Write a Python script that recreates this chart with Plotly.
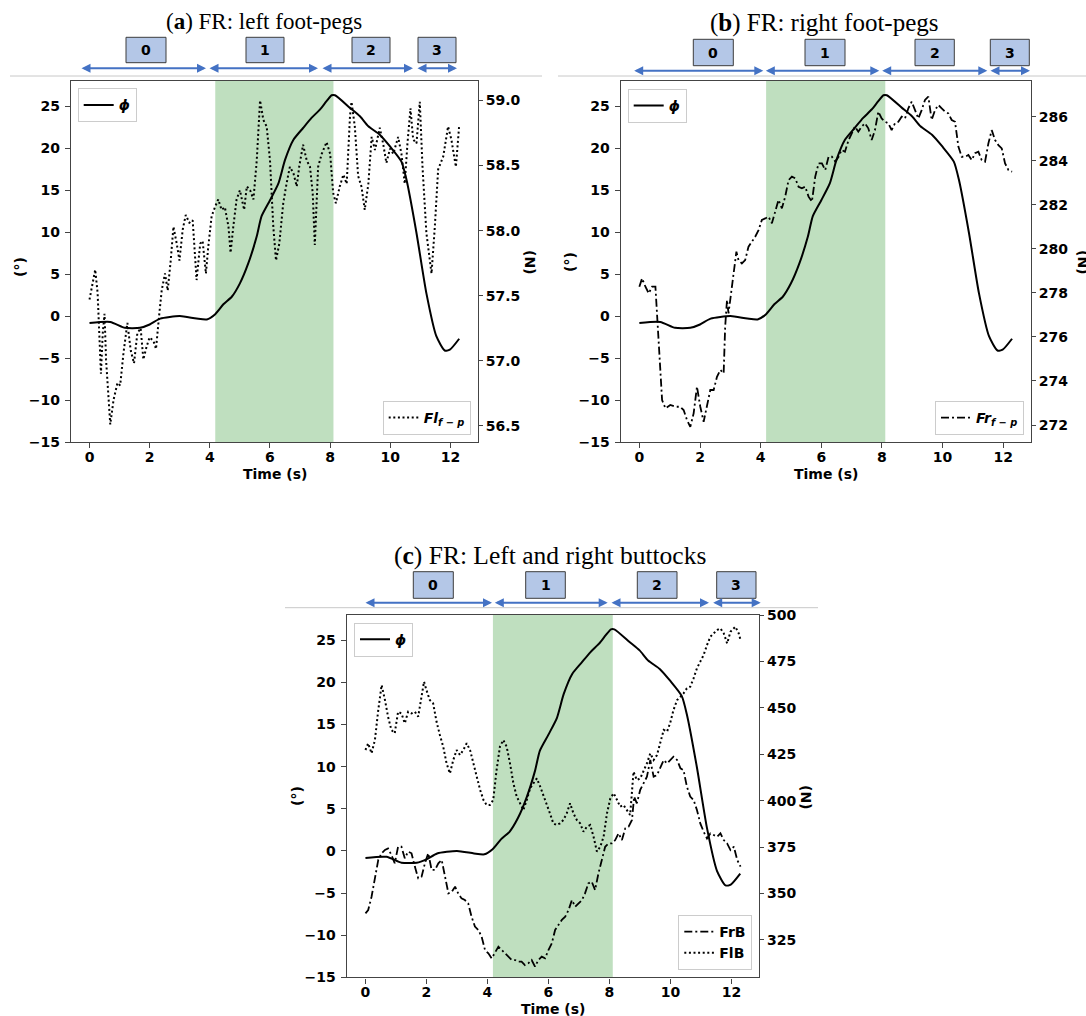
import plotly.graph_objects as go

W, H = 1086, 1016

# ---------------- data ----------------
phi_t = [0, 0.69, 1.18, 1.68, 2.0, 2.35, 3.0, 3.56, 3.9, 4.17,
         4.45, 4.73, 5.0, 5.28, 5.56, 5.72, 6.0, 6.28, 6.5, 6.78,
         7.1, 7.38, 7.66, 7.88, 8.05, 8.16, 8.66, 8.99, 9.27, 9.65,
         9.99, 10.37, 10.54, 10.87, 11.2, 11.53, 11.81, 11.98, 12.29]
phi_deg = [-0.83, -0.7, -1.4, -1.4, -1.0, -0.3, 0.0, -0.3, -0.4, 0.2,
           1.4, 2.3, 3.9, 6.3, 9.5, 11.9, 13.8, 15.8, 18.6, 21.0,
           22.4, 23.6, 24.6, 25.6, 26.3, 26.3, 24.8, 23.8, 22.6, 21.6,
           20.2, 18.4, 16.2, 9.9, 2.7, -2.4, -4.1, -4.0, -2.7]

fl_t = [0, 0.08, 0.19, 0.27, 0.38, 0.44, 0.5, 0.55, 0.69, 0.8,
        0.93, 1.02, 1.13, 1.26, 1.37, 1.48, 1.59, 1.7, 1.79, 1.9,
        2.0, 2.13, 2.21, 2.32, 2.4, 2.51, 2.6, 2.7, 2.79, 2.9,
        2.99, 3.1, 3.2, 3.32, 3.43, 3.56, 3.68, 3.76, 3.87, 3.95,
        4.06, 4.17, 4.28, 4.39, 4.5, 4.62, 4.69, 4.78, 4.89, 5.0,
        5.14, 5.23, 5.34, 5.45, 5.56, 5.67, 5.78, 5.89, 6.0, 6.11,
        6.2, 6.31, 6.44, 6.55, 6.66, 6.78, 6.89, 6.97, 7.1, 7.22,
        7.33, 7.42, 7.49, 7.6, 7.72, 7.88, 8.0, 8.1, 8.19, 8.32,
        8.44, 8.55, 8.66, 8.71, 8.82, 8.93, 9.04, 9.15, 9.27, 9.38,
        9.49, 9.65, 9.76, 9.87, 9.99, 10.1, 10.26, 10.37, 10.48, 10.57,
        10.67, 10.76, 10.87, 10.98, 11.07, 11.2, 11.37, 11.48, 11.59, 11.76,
        11.92, 12.03, 12.18, 12.29]
fl_fp = [57.47, 57.57, 57.70, 57.52, 56.90, 57.21, 57.36, 57.01, 56.51, 56.70,
         56.83, 56.81, 57.06, 57.29, 57.08, 56.98, 57.21, 57.25, 57.01, 57.11,
         57.18, 57.15, 57.09, 57.36, 57.54, 57.67, 57.54, 57.77, 58.03, 57.90,
         57.77, 58.01, 58.12, 58.06, 58.08, 57.62, 57.90, 57.92, 57.67, 57.88,
         58.11, 58.18, 58.24, 58.16, 58.18, 58.03, 57.83, 58.03, 58.24, 58.31,
         58.16, 58.34, 58.31, 58.24, 58.54, 59.00, 58.85, 58.80, 58.54, 58.03,
         57.77, 57.90, 58.21, 58.36, 58.49, 58.44, 58.34, 58.49, 58.66, 58.54,
         58.49, 58.29, 57.89, 58.49, 58.59, 58.68, 58.59, 58.29, 58.21, 58.34,
         58.43, 58.36, 58.88, 58.99, 58.80, 58.42, 58.34, 58.16, 58.36, 58.72,
         58.62, 58.79, 58.67, 58.52, 58.63, 58.59, 58.72, 58.59, 58.36, 58.67,
         58.94, 58.70, 58.67, 58.99, 58.49, 57.98, 57.67, 58.03, 58.47, 58.57,
         58.80, 58.70, 58.49, 58.81]

fr_t = [0, 0.09, 0.2, 0.31, 0.42, 0.53, 0.64, 0.75, 0.86, 1.02,
        1.19, 1.35, 1.46, 1.57, 1.68, 1.79, 1.9, 2.01, 2.12, 2.23,
        2.34, 2.45, 2.56, 2.67, 2.78, 2.83, 2.89, 2.94, 3.02, 3.11,
        3.2, 3.27, 3.38, 3.49, 3.6, 3.71, 3.82, 3.93, 4.04, 4.15,
        4.26, 4.37, 4.48, 4.59, 4.7, 4.81, 4.92, 5.03, 5.14, 5.25,
        5.36, 5.47, 5.58, 5.69, 5.8, 5.91, 6.02, 6.13, 6.24, 6.35,
        6.46, 6.57, 6.67, 6.78, 6.9, 7.0, 7.11, 7.22, 7.33, 7.44,
        7.55, 7.66, 7.77, 7.88, 7.99, 8.1, 8.21, 8.32, 8.43, 8.54,
        8.65, 8.76, 8.87, 8.98, 9.09, 9.2, 9.31, 9.42, 9.53, 9.64,
        9.75, 9.86, 9.97, 10.08, 10.19, 10.3, 10.41, 10.52, 10.63, 10.74,
        10.85, 10.96, 11.07, 11.18, 11.29, 11.4, 11.51, 11.62, 11.73, 11.84,
        11.95, 12.06, 12.17, 12.29]
fr_fp = [278.28, 278.66, 278.28, 277.98, 278.28, 278.28, 275.71, 273.13, 272.76, 272.91,
         272.83, 272.83, 272.68, 272.23, 271.92, 272.53, 273.74, 272.83, 272.15, 272.83,
         273.59, 273.59, 274.19, 274.50, 274.35, 276.46, 277.68, 277.07, 277.98, 278.89,
         279.87, 279.49, 279.34, 279.49, 280.10, 280.32, 280.55, 280.85, 281.31, 281.38,
         281.46, 281.16, 281.76, 282.22, 281.84, 282.37, 283.12, 283.28, 283.20, 282.82,
         282.75, 282.82, 282.37, 282.14, 283.28, 283.88, 283.88, 283.58, 284.18, 284.18,
         283.96, 284.18, 284.49, 284.41, 284.94, 285.24, 285.55, 285.32, 285.55, 285.70,
         285.47, 284.94, 285.39, 286.23, 285.92, 285.77, 285.70, 285.39, 285.70, 285.77,
         286.00, 285.92, 286.38, 286.68, 286.30, 285.92, 286.30, 286.76, 286.91, 285.85,
         286.30, 286.53, 286.38, 286.23, 286.15, 285.85, 285.77, 284.64, 284.18, 284.18,
         284.26, 284.03, 284.34, 284.41, 284.03, 283.96, 284.79, 285.39, 284.94, 284.71,
         284.56, 283.88, 283.58, 283.50]

flb_t = [0, 0.09, 0.2, 0.31, 0.42, 0.53, 0.64, 0.74, 0.85, 0.96,
         1.07, 1.18, 1.29, 1.4, 1.51, 1.62, 1.73, 1.84, 1.92, 2.0,
         2.11, 2.22, 2.33, 2.44, 2.55, 2.66, 2.77, 2.88, 2.99, 3.1,
         3.21, 3.32, 3.43, 3.54, 3.65, 3.76, 3.87, 3.97, 4.08, 4.19,
         4.3, 4.41, 4.52, 4.63, 4.74, 4.85, 4.96, 5.07, 5.18, 5.29,
         5.4, 5.51, 5.62, 5.73, 5.84, 5.95, 6.05, 6.16, 6.27, 6.38,
         6.49, 6.6, 6.71, 6.82, 6.93, 7.04, 7.15, 7.26, 7.37, 7.48,
         7.59, 7.7, 7.81, 7.92, 8.03, 8.14, 8.25, 8.35, 8.46, 8.57,
         8.68, 8.79, 8.9, 9.01, 9.12, 9.23, 9.34, 9.45, 9.56, 9.67,
         9.78, 9.89, 9.99, 10.1, 10.22, 10.33, 10.43, 10.54, 10.65, 10.76,
         10.87, 10.98, 11.09, 11.2, 11.31, 11.42, 11.53, 11.64, 11.75, 11.86,
         11.97, 12.13, 12.24, 12.3]
flb = [427.3, 430.9, 425.5, 432.7, 448.8, 462.3, 454.2, 445.3, 438.1, 436.3,
       447.9, 447.0, 441.7, 447.9, 447.0, 447.9, 445.3, 456.0, 464.1, 459.6,
       454.2, 452.4, 442.6, 435.4, 429.1, 420.1, 414.7, 421.9, 427.3, 424.6,
       427.3, 430.9, 427.3, 420.1, 412.9, 405.8, 400.4, 397.7, 397.7, 400.4,
       416.5, 429.1, 432.7, 429.1, 420.1, 409.4, 402.2, 398.6, 395.0, 400.4,
       406.7, 409.4, 412.0, 407.6, 402.2, 397.7, 393.2, 387.8, 386.9, 387.8,
       389.6, 393.2, 398.6, 393.2, 389.6, 387.8, 383.3, 386.0, 386.9, 380.6,
       372.6, 375.2, 380.6, 393.2, 401.3, 404.0, 400.4, 396.8, 397.7, 395.0,
       392.3, 415.6, 411.1, 412.0, 415.6, 420.1, 425.5, 421.9, 424.6, 430.9,
       438.1, 437.2, 441.7, 448.8, 454.2, 456.0, 457.8, 460.5, 461.4, 465.9,
       471.3, 474.9, 478.5, 483.8, 488.3, 490.1, 491.9, 492.8, 490.1, 484.7,
       491.0, 493.7, 490.1, 486.5]

frb_t = [0, 0.09, 0.2, 0.31, 0.42, 0.53, 0.64, 0.74, 0.85, 0.96,
         1.07, 1.18, 1.29, 1.4, 1.51, 1.62, 1.73, 1.84, 1.95, 2.06,
         2.17, 2.28, 2.39, 2.5, 2.61, 2.72, 2.83, 2.94, 3.04, 3.15,
         3.26, 3.37, 3.48, 3.59, 3.7, 3.81, 3.92, 4.03, 4.14, 4.25,
         4.36, 4.47, 4.58, 4.69, 4.8, 4.91, 5.01, 5.12, 5.23, 5.34,
         5.45, 5.56, 5.67, 5.78, 5.89, 6.0, 6.11, 6.22, 6.33, 6.44,
         6.55, 6.66, 6.77, 6.88, 6.99, 7.1, 7.2, 7.31, 7.42, 7.53,
         7.64, 7.75, 7.86, 7.97, 8.08, 8.19, 8.3, 8.41, 8.52, 8.63,
         8.74, 8.81, 8.9, 9.01, 9.12, 9.23, 9.34, 9.45, 9.56, 9.67,
         9.78, 9.89, 9.99, 10.1, 10.22, 10.33, 10.43, 10.54, 10.65, 10.76,
         10.87, 10.98, 11.09, 11.2, 11.31, 11.42, 11.53, 11.64, 11.75, 11.86,
         11.97, 12.08, 12.19, 12.3]
frb = [339.3, 341.1, 348.3, 359.1, 368.1, 371.7, 373.5, 374.3, 370.8, 366.3,
       375.2, 375.2, 369.0, 372.6, 371.7, 364.5, 358.2, 359.1, 366.3, 371.7,
       362.7, 362.7, 366.3, 368.1, 359.1, 350.1, 351.0, 353.7, 350.1, 347.4,
       346.5, 344.7, 337.5, 332.2, 330.4, 326.8, 319.6, 317.8, 315.1, 318.7,
       321.4, 319.6, 317.8, 316.0, 314.2, 314.2, 313.3, 313.3, 311.5, 312.4,
       314.2, 310.6, 314.2, 316.0, 315.1, 319.6, 323.2, 330.4, 333.1, 335.8,
       337.5, 341.1, 346.5, 342.9, 344.7, 346.5, 350.1, 355.5, 356.4, 351.9,
       360.9, 368.1, 375.2, 377.0, 377.0, 378.8, 382.4, 378.8, 385.1, 386.0,
       389.6, 402.2, 398.6, 405.8, 409.4, 412.9, 421.9, 412.9, 413.8, 418.3,
       421.9, 420.1, 421.9, 423.7, 421.9, 417.4, 416.5, 407.6, 402.2, 400.4,
       395.0, 387.8, 383.3, 379.7, 382.4, 381.5, 380.6, 382.4, 378.8, 377.0,
       373.4, 375.2, 368.1, 364.5]

phase_span = [4.18, 8.11]
phase_labels = ["0", "1", "2", "3"]
x_ticks = [0, 2, 4, 6, 8, 10, 12]
left_ticks = [-15, -10, -5, 0, 5, 10, 15, 20, 25]
right_ticks_a = [56.5, 57.0, 57.5, 58.0, 58.5, 59.0]
right_ticks_b = [272, 274, 276, 278, 280, 282, 284, 286]
right_ticks_c = [325, 350, 375, 400, 425, 450, 475, 500]

titles = ["(<b>a</b>) FR: left foot-pegs",
          "(<b>b</b>) FR: right foot-pegs",
          "(<b>c</b>) FR: Left and right buttocks"]

# ---------------- helpers ----------------
def px(x):
    return x / W


def py(y):
    return 1 - y / H


SANS = "DejaVu Sans"
TICKFONT = dict(family=SANS, size=14, color="black", weight="bold")
FRAME = "#444444"

# layout of each panel in page pixels
panels = [
    dict(frame=(71, 478, 81, 442), xa="xaxis", ya="yaxis", yb="yaxis2",
         xr="x", yr="y", yr2="y2", rrange=[56.375, 59.15], rticks=right_ticks_a, rfmt=".1f",
         title_xy=(263.7, 22), title_size=23,
         boxes=[(126, 166), (246, 284), (352, 390), (418, 456)], box_y=(37.3, 62.7),
         arrows=[(80, 206), (208, 318), (321, 413), (416, 457)], arrow_y=68.3,
         rule=(10, 542, 76),
         deg_xy=(20, 267), n_xy=(530, 262), time_xy=(274.5, 474)),
    dict(frame=(620.7, 1031, 81, 442), xa="xaxis2", ya="yaxis3", yb="yaxis4",
         xr="x2", yr="y3", yr2="y4", rrange=[271.23, 287.62], rticks=right_ticks_b, rfmt="d",
         title_xy=(824, 23), title_size=25,
         boxes=[(693.3, 733.3), (805, 845), (915, 954.3), (990.3, 1029.3)], box_y=(39.3, 65.7),
         arrows=[(632.7, 763.3), (764.3, 879.3), (880.7, 987.3), (989, 1030)], arrow_y=70.7,
         rule=(558, 1086, 76),
         deg_xy=(570, 262), n_xy=(1083, 262), time_xy=(826, 474)),
    dict(frame=(346.7, 759.3, 615, 977.3), xa="xaxis3", ya="yaxis5", yb="yaxis6",
         xr="x3", yr="y5", yr2="y6", rrange=[304.9, 500], rticks=right_ticks_c, rfmt="d",
         title_xy=(550, 555), title_size=25.5,
         boxes=[(413.3, 453.3), (525.7, 565.3), (637.3, 677), (716.7, 756)], box_y=(571.7, 598.3),
         arrows=[(364, 492), (493.3, 607.7), (610, 709), (711.7, 760.7)], arrow_y=602.7,
         rule=(285, 818, 607.7),
         deg_xy=(297, 796), n_xy=(806, 797), time_xy=(553, 1009)),
]

fig = go.Figure()

# ---------------- traces ----------------
phi_line = dict(color="black", width=2, shape="spline", smoothing=0.6)
phi_name = "<b><i>ϕ</i></b>"
dotted = dict(color="black", width=2, dash="2px,2.6px")
dashdot = dict(color="black", width=1.8, dash="8px,3px,2px,3px")

# panel a
fig.add_trace(go.Scatter(x=phi_t, y=phi_deg, mode="lines", line=phi_line, name=phi_name,
                         xaxis="x", yaxis="y", legend="legend", showlegend=True))
fig.add_trace(go.Scatter(x=fl_t, y=fl_fp, mode="lines", line=dotted,
                         name="<b><i>Fl</i></b><sub><b><i>f − p</i></b></sub>",
                         xaxis="x", yaxis="y2", legend="legend2", showlegend=True))
# panel b
fig.add_trace(go.Scatter(x=phi_t, y=phi_deg, mode="lines", line=phi_line, name=phi_name,
                         xaxis="x2", yaxis="y3", legend="legend3", showlegend=True))
fig.add_trace(go.Scatter(x=fr_t, y=fr_fp, mode="lines", line=dashdot,
                         name="<b><i>Fr</i></b><sub><b><i>f − p</i></b></sub>",
                         xaxis="x2", yaxis="y4", legend="legend4", showlegend=True))
# panel c
fig.add_trace(go.Scatter(x=phi_t, y=phi_deg, mode="lines", line=phi_line, name=phi_name,
                         xaxis="x3", yaxis="y5", legend="legend5", showlegend=True))
fig.add_trace(go.Scatter(x=frb_t, y=frb, mode="lines", line=dashdot,
                         name="<b>FrB</b>", xaxis="x3", yaxis="y6", legend="legend6",
                         showlegend=True))
fig.add_trace(go.Scatter(x=flb_t, y=flb, mode="lines", line=dotted,
                         name="<b>FlB</b>", xaxis="x3", yaxis="y6", legend="legend6",
                         showlegend=True))

# ---------------- axes & decorations ----------------
layout = dict(
    width=W, height=H,
    margin=dict(l=0, r=0, t=0, b=0),
    paper_bgcolor="white", plot_bgcolor="white",
    font=dict(family=SANS, color="black"),
    showlegend=True,
)

for p in panels:
    x0, x1, y0, y1 = p["frame"]
    layout[p["xa"]] = dict(
        domain=[px(x0), px(x1)], range=[-0.615, 12.915], anchor=p["yr"],
        tickvals=x_ticks, ticks="outside", ticklen=5, tickwidth=1.2, tickcolor=FRAME,
        showline=True, linecolor=FRAME, linewidth=1.4, mirror=True,
        showgrid=False, zeroline=False, tickfont=TICKFONT, automargin=False,
        ticklabelstandoff=-3,
    )
    layout[p["ya"]] = dict(
        domain=[py(y1), py(y0)], range=[-15, 28], anchor=p["xr"],
        tickvals=left_ticks, ticks="outside", ticklen=5, tickwidth=1.2, tickcolor=FRAME,
        showline=True, linecolor=FRAME, linewidth=1.4, mirror=True,
        showgrid=False, zeroline=False, tickfont=TICKFONT, automargin=False,
        ticklabelstandoff=2,
    )
    layout[p["yb"]] = dict(
        overlaying=p["yr"], side="right", anchor=p["xr"], range=p["rrange"],
        tickvals=p["rticks"], tickformat=p["rfmt"], ticks="outside", ticklen=4,
        tickwidth=1.2, tickcolor=FRAME, showline=False, showgrid=False, zeroline=False,
        tickfont=TICKFONT, automargin=False, ticklabelstandoff=0,
    )

fig.update_layout(**layout)

legend_style = dict(bgcolor="white", bordercolor="#cccccc", borderwidth=1,
                    font=dict(family=SANS, size=14, color="black"),
                    itemwidth=30, tracegroupgap=2, visible=True)
fig.update_layout(
    legend=dict(x=px(77.7), y=py(88.3), xanchor="left", yanchor="top", **legend_style),
    legend2=dict(x=px(470.7), y=py(435), xanchor="right", yanchor="bottom", **legend_style),
    legend3=dict(x=px(627.7), y=py(89), xanchor="left", yanchor="top", **legend_style),
    legend4=dict(x=px(1024), y=py(435), xanchor="right", yanchor="bottom", **legend_style),
    legend5=dict(x=px(354), y=py(622.7), xanchor="left", yanchor="top", **legend_style),
    legend6=dict(x=px(752.3), y=py(970), xanchor="right", yanchor="bottom", **legend_style),
)

shapes = []
annotations = []
for i, p in enumerate(panels):
    # highlighted phase
    shapes.append(dict(type="rect", xref=p["xr"], yref=p["yr"] + " domain",
                       x0=phase_span[0], x1=phase_span[1], y0=0, y1=1,
                       fillcolor="rgba(0,128,0,0.25)", line=dict(width=0), layer="below"))
    # thin rule above panel
    rx0, rx1, ry = p["rule"]
    shapes.append(dict(type="line", xref="paper", yref="paper",
                       x0=px(rx0), x1=px(rx1), y0=py(ry), y1=py(ry),
                       line=dict(color="#c8c8c8", width=1)))
    # phase boxes
    by0, by1 = p["box_y"]
    for lab, (bx0, bx1) in zip(phase_labels, p["boxes"]):
        shapes.append(dict(type="rect", xref="paper", yref="paper",
                           x0=px(bx0), x1=px(bx1), y0=py(by1), y1=py(by0),
                           fillcolor="#b4c7e7", line=dict(color="#3c3c3c", width=1)))
        annotations.append(dict(xref="paper", yref="paper", x=px((bx0 + bx1) / 2),
                                y=py((by0 + by1) / 2), text="<b>%s</b>" % lab, showarrow=False,
                                font=dict(family=SANS, size=14, color="black"),
                                xanchor="center", yanchor="middle"))
    # phase arrows
    for (ax0, ax1) in p["arrows"]:
        annotations.append(dict(xref="paper", yref="paper", x=px(ax1), y=py(p["arrow_y"]),
                                axref="pixel", ayref="pixel", ax=ax0 - ax1, ay=0, text="",
                                showarrow=True, arrowhead=2, startarrowhead=2,
                                arrowside="end+start", arrowsize=0.9, startarrowsize=0.9,
                                arrowwidth=2, arrowcolor="#4472c4", standoff=0, startstandoff=0))
    # title
    tx, ty = p["title_xy"]
    annotations.append(dict(xref="paper", yref="paper", x=px(tx), y=py(ty), text=titles[i],
                            showarrow=False, xanchor="center", yanchor="middle",
                            font=dict(family="Liberation Serif", size=p["title_size"],
                                      color="black")))
    # axis titles
    dx, dy = p["deg_xy"]
    annotations.append(dict(xref="paper", yref="paper", x=px(dx), y=py(dy), text="<b>(°)</b>",
                            showarrow=False, textangle=-90, xanchor="center", yanchor="middle",
                            font=dict(family=SANS, size=14, color="black")))
    nx, ny = p["n_xy"]
    annotations.append(dict(xref="paper", yref="paper", x=px(nx), y=py(ny), text="<b>(N)</b>",
                            showarrow=False, textangle=90, xanchor="center", yanchor="middle",
                            font=dict(family=SANS, size=14, color="black")))
    tx2, ty2 = p["time_xy"]
    annotations.append(dict(xref="paper", yref="paper", x=px(tx2), y=py(ty2),
                            text="<b>Time (s)</b>", showarrow=False, xanchor="center",
                            yanchor="middle", font=dict(family=SANS, size=14, color="black")))

fig.update_layout(shapes=shapes, annotations=annotations)

fig.write_html("out.html", config={"displayModeBar": False},
               post_script="document.body.style.margin='0px';document.body.style.padding='0px';")
